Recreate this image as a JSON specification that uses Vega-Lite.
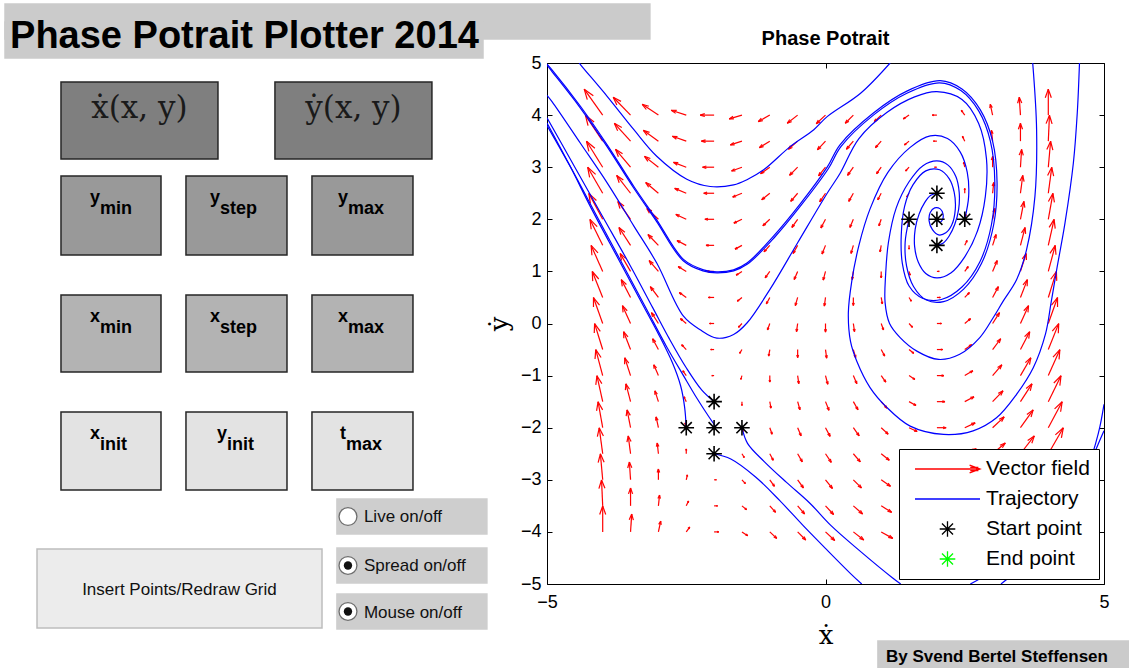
{
  "$schema": "https://vega.github.io/schema/vega-lite/v6.json",
  "background": "white",
  "padding": {"left": 0, "top": 3, "right": 0, "bottom": 0},
  "spacing": 0,
  "bounds": "flush",
  "config": {
    "font": "Liberation Sans",
    "view": {"stroke": null},
    "axis": {"grid": false, "domainColor": "black", "tickColor": "black", "labelColor": "black", "labelFont": "Liberation Sans", "labelFontSize": 18, "titleColor": "black", "labelOverlap": false}
  },
  "resolve": {"scale": {"x": "independent", "y": "independent", "fill": "independent", "stroke": "independent", "color": "independent", "shape": "independent"}},
  "datasets": {
    "widgets": [
      {"name": "band", "kind": "banner", "x0": -0.446, "x1": 4.693, "y0": -1.458, "y1": -1.161},
      {"name": "heading", "kind": "banner", "x0": -0.446, "x1": 3.363, "y0": -1.305, "y1": -1.0},
      {"name": "xdot", "kind": "function", "x0": 0, "x1": 1.251, "y0": -0.797, "y1": -0.144},
      {"name": "ydot", "kind": "function", "x0": 1.705, "x1": 2.956, "y0": -0.797, "y1": -0.144},
      {"name": "ymin", "kind": "y range", "x0": 0, "x1": 0.797, "y0": 0, "y1": 0.669},
      {"name": "ystep", "kind": "y range", "x0": 0.996, "x1": 1.801, "y0": 0, "y1": 0.669},
      {"name": "ymax", "kind": "y range", "x0": 2.0, "x1": 2.805, "y0": 0, "y1": 0.669},
      {"name": "xmin", "kind": "x range", "x0": 0, "x1": 0.797, "y0": 1.008, "y1": 1.661},
      {"name": "xstep", "kind": "x range", "x0": 0.996, "x1": 1.801, "y0": 1.008, "y1": 1.661},
      {"name": "xmax", "kind": "x range", "x0": 2.0, "x1": 2.805, "y0": 1.008, "y1": 1.661},
      {"name": "xinit", "kind": "initial", "x0": 0, "x1": 0.797, "y0": 2.0, "y1": 2.661},
      {"name": "yinit", "kind": "initial", "x0": 0.996, "x1": 1.801, "y0": 2.0, "y1": 2.661},
      {"name": "tmax", "kind": "initial", "x0": 2.0, "x1": 2.805, "y0": 2.0, "y1": 2.661},
      {"name": "insert", "kind": "action", "x0": -0.191, "x1": 2.08, "y0": 3.161, "y1": 3.831},
      {"name": "live", "kind": "option", "x0": 2.199, "x1": 3.394, "y0": 2.737, "y1": 3.034},
      {"name": "spread", "kind": "option", "x0": 2.199, "x1": 3.394, "y0": 3.153, "y1": 3.449},
      {"name": "mouse", "kind": "option", "x0": 2.199, "x1": 3.394, "y0": 3.542, "y1": 3.839},
      {"name": "credit", "kind": "credit", "x0": 6.51, "x1": 8.51, "y0": 3.941, "y1": 4.178}
    ],
    "labels": [
      {"role": "heading", "text": "Phase Potrait Plotter 2014", "gx": -0.406, "gy": -1.085},
      {"role": "function", "text": "ẋ(x, y)", "gx": 0.625, "gy": -0.49},
      {"role": "function", "text": "ẏ(x, y)", "gx": 2.331, "gy": -0.49},
      {"role": "button", "text": "Insert Points/Redraw Grid", "gx": 0.944, "gy": 3.551},
      {"role": "option", "text": "Live on/off", "gx": 2.414, "gy": 2.936},
      {"role": "option", "text": "Spread on/off", "gx": 2.414, "gy": 3.352},
      {"role": "option", "text": "Mouse on/off", "gx": 2.414, "gy": 3.742},
      {"role": "credit", "text": "By Svend Bertel Steffensen", "gx": 6.574, "gy": 4.119}
    ],
    "params": [
      {"main": "y", "sub": "min", "gx": 0.311, "gy": 0.229, "gys": 0.322},
      {"main": "y", "sub": "step", "gx": 1.267, "gy": 0.229, "gys": 0.322},
      {"main": "y", "sub": "max", "gx": 2.287, "gy": 0.229, "gys": 0.322},
      {"main": "x", "sub": "min", "gx": 0.311, "gy": 1.237, "gys": 1.331},
      {"main": "x", "sub": "step", "gx": 1.267, "gy": 1.237, "gys": 1.331},
      {"main": "x", "sub": "max", "gx": 2.287, "gy": 1.237, "gys": 1.331},
      {"main": "x", "sub": "init", "gx": 0.311, "gy": 2.229, "gys": 2.322},
      {"main": "y", "sub": "init", "gx": 1.323, "gy": 2.229, "gys": 2.322},
      {"main": "t", "sub": "max", "gx": 2.271, "gy": 2.229, "gys": 2.322}
    ],
    "radios": [
      {"option": "Live on/off", "on": false, "gx": 2.287, "gy": 2.886},
      {"option": "Spread on/off", "on": true, "gx": 2.287, "gy": 3.301},
      {"option": "Mouse on/off", "on": true, "gx": 2.287, "gy": 3.691}
    ],
    "starts": [
      {"kind": "Start point", "x": 2, "y": 2}, {"kind": "Start point", "x": 2.5, "y": 2}, {"kind": "Start point", "x": 1.5, "y": 2},
      {"kind": "Start point", "x": 2, "y": 2.5}, {"kind": "Start point", "x": 2, "y": 1.5},
      {"kind": "Start point", "x": -2, "y": -2}, {"kind": "Start point", "x": -1.5, "y": -2}, {"kind": "Start point", "x": -2.5, "y": -2},
      {"kind": "Start point", "x": -2, "y": -1.5}, {"kind": "Start point", "x": -2, "y": -2.5}
    ],
    "arrows": [
      {"x":-4,"y":-4,"u":0,"v":12},{"x":-4,"y":-3.5,"u":-0.5,"v":12},{"x":-4,"y":-3,"u":-1,"v":12},{"x":-4,"y":-2.5,"u":-1.5,"v":12},{"x":-4,"y":-2,"u":-2,"v":12},{"x":-4,"y":-1.5,"u":-2.5,"v":12},{"x":-4,"y":-1,"u":-3,"v":12},{"x":-4,"y":-0.5,"u":-3.5,"v":12},{"x":-4,"y":0,"u":-4,"v":12},{"x":-4,"y":0.5,"u":-4.5,"v":12},{"x":-4,"y":1,"u":-5,"v":12},{"x":-4,"y":1.5,"u":-5.5,"v":12},{"x":-4,"y":2,"u":-6,"v":12},{"x":-4,"y":2.5,"u":-6.5,"v":12},{"x":-4,"y":3,"u":-7,"v":12},{"x":-4,"y":3.5,"u":-7.5,"v":12},{"x":-4,"y":4,"u":-8,"v":12},
      {"x":-3.5,"y":-4,"u":0.5,"v":8.25},{"x":-3.5,"y":-3.5,"u":0,"v":8.25},{"x":-3.5,"y":-3,"u":-0.5,"v":8.25},{"x":-3.5,"y":-2.5,"u":-1,"v":8.25},{"x":-3.5,"y":-2,"u":-1.5,"v":8.25},{"x":-3.5,"y":-1.5,"u":-2,"v":8.25},{"x":-3.5,"y":-1,"u":-2.5,"v":8.25},{"x":-3.5,"y":-0.5,"u":-3,"v":8.25},{"x":-3.5,"y":0,"u":-3.5,"v":8.25},{"x":-3.5,"y":0.5,"u":-4,"v":8.25},{"x":-3.5,"y":1,"u":-4.5,"v":8.25},{"x":-3.5,"y":1.5,"u":-5,"v":8.25},{"x":-3.5,"y":2,"u":-5.5,"v":8.25},{"x":-3.5,"y":2.5,"u":-6,"v":8.25},{"x":-3.5,"y":3,"u":-6.5,"v":8.25},{"x":-3.5,"y":3.5,"u":-7,"v":8.25},{"x":-3.5,"y":4,"u":-7.5,"v":8.25},
      {"x":-3,"y":-4,"u":1,"v":5},{"x":-3,"y":-3.5,"u":0.5,"v":5},{"x":-3,"y":-3,"u":0,"v":5},{"x":-3,"y":-2.5,"u":-0.5,"v":5},{"x":-3,"y":-2,"u":-1,"v":5},{"x":-3,"y":-1.5,"u":-1.5,"v":5},{"x":-3,"y":-1,"u":-2,"v":5},{"x":-3,"y":-0.5,"u":-2.5,"v":5},{"x":-3,"y":0,"u":-3,"v":5},{"x":-3,"y":0.5,"u":-3.5,"v":5},{"x":-3,"y":1,"u":-4,"v":5},{"x":-3,"y":1.5,"u":-4.5,"v":5},{"x":-3,"y":2,"u":-5,"v":5},{"x":-3,"y":2.5,"u":-5.5,"v":5},{"x":-3,"y":3,"u":-6,"v":5},{"x":-3,"y":3.5,"u":-6.5,"v":5},{"x":-3,"y":4,"u":-7,"v":5},
      {"x":-2.5,"y":-4,"u":1.5,"v":2.25},{"x":-2.5,"y":-3.5,"u":1,"v":2.25},{"x":-2.5,"y":-3,"u":0.5,"v":2.25},{"x":-2.5,"y":-2.5,"u":0,"v":2.25},{"x":-2.5,"y":-2,"u":-0.5,"v":2.25},{"x":-2.5,"y":-1.5,"u":-1,"v":2.25},{"x":-2.5,"y":-1,"u":-1.5,"v":2.25},{"x":-2.5,"y":-0.5,"u":-2,"v":2.25},{"x":-2.5,"y":0,"u":-2.5,"v":2.25},{"x":-2.5,"y":0.5,"u":-3,"v":2.25},{"x":-2.5,"y":1,"u":-3.5,"v":2.25},{"x":-2.5,"y":1.5,"u":-4,"v":2.25},{"x":-2.5,"y":2,"u":-4.5,"v":2.25},{"x":-2.5,"y":2.5,"u":-5,"v":2.25},{"x":-2.5,"y":3,"u":-5.5,"v":2.25},{"x":-2.5,"y":3.5,"u":-6,"v":2.25},{"x":-2.5,"y":4,"u":-6.5,"v":2.25},
      {"x":-2,"y":-4,"u":2,"v":0},{"x":-2,"y":-3.5,"u":1.5,"v":0},{"x":-2,"y":-3,"u":1,"v":0},{"x":-2,"y":-2.5,"u":0.5,"v":0},{"x":-2,"y":-2,"u":0,"v":0},{"x":-2,"y":-1.5,"u":-0.5,"v":0},{"x":-2,"y":-1,"u":-1,"v":0},{"x":-2,"y":-0.5,"u":-1.5,"v":0},{"x":-2,"y":0,"u":-2,"v":0},{"x":-2,"y":0.5,"u":-2.5,"v":0},{"x":-2,"y":1,"u":-3,"v":0},{"x":-2,"y":1.5,"u":-3.5,"v":0},{"x":-2,"y":2,"u":-4,"v":0},{"x":-2,"y":2.5,"u":-4.5,"v":0},{"x":-2,"y":3,"u":-5,"v":0},{"x":-2,"y":3.5,"u":-5.5,"v":0},{"x":-2,"y":4,"u":-6,"v":0},
      {"x":-1.5,"y":-4,"u":2.5,"v":-1.75},{"x":-1.5,"y":-3.5,"u":2,"v":-1.75},{"x":-1.5,"y":-3,"u":1.5,"v":-1.75},{"x":-1.5,"y":-2.5,"u":1,"v":-1.75},{"x":-1.5,"y":-2,"u":0.5,"v":-1.75},{"x":-1.5,"y":-1.5,"u":0,"v":-1.75},{"x":-1.5,"y":-1,"u":-0.5,"v":-1.75},{"x":-1.5,"y":-0.5,"u":-1,"v":-1.75},{"x":-1.5,"y":0,"u":-1.5,"v":-1.75},{"x":-1.5,"y":0.5,"u":-2,"v":-1.75},{"x":-1.5,"y":1,"u":-2.5,"v":-1.75},{"x":-1.5,"y":1.5,"u":-3,"v":-1.75},{"x":-1.5,"y":2,"u":-3.5,"v":-1.75},{"x":-1.5,"y":2.5,"u":-4,"v":-1.75},{"x":-1.5,"y":3,"u":-4.5,"v":-1.75},{"x":-1.5,"y":3.5,"u":-5,"v":-1.75},{"x":-1.5,"y":4,"u":-5.5,"v":-1.75},
      {"x":-1,"y":-4,"u":3,"v":-3},{"x":-1,"y":-3.5,"u":2.5,"v":-3},{"x":-1,"y":-3,"u":2,"v":-3},{"x":-1,"y":-2.5,"u":1.5,"v":-3},{"x":-1,"y":-2,"u":1,"v":-3},{"x":-1,"y":-1.5,"u":0.5,"v":-3},{"x":-1,"y":-1,"u":0,"v":-3},{"x":-1,"y":-0.5,"u":-0.5,"v":-3},{"x":-1,"y":0,"u":-1,"v":-3},{"x":-1,"y":0.5,"u":-1.5,"v":-3},{"x":-1,"y":1,"u":-2,"v":-3},{"x":-1,"y":1.5,"u":-2.5,"v":-3},{"x":-1,"y":2,"u":-3,"v":-3},{"x":-1,"y":2.5,"u":-3.5,"v":-3},{"x":-1,"y":3,"u":-4,"v":-3},{"x":-1,"y":3.5,"u":-4.5,"v":-3},{"x":-1,"y":4,"u":-5,"v":-3},
      {"x":-0.5,"y":-4,"u":3.5,"v":-3.75},{"x":-0.5,"y":-3.5,"u":3,"v":-3.75},{"x":-0.5,"y":-3,"u":2.5,"v":-3.75},{"x":-0.5,"y":-2.5,"u":2,"v":-3.75},{"x":-0.5,"y":-2,"u":1.5,"v":-3.75},{"x":-0.5,"y":-1.5,"u":1,"v":-3.75},{"x":-0.5,"y":-1,"u":0.5,"v":-3.75},{"x":-0.5,"y":-0.5,"u":0,"v":-3.75},{"x":-0.5,"y":0,"u":-0.5,"v":-3.75},{"x":-0.5,"y":0.5,"u":-1,"v":-3.75},{"x":-0.5,"y":1,"u":-1.5,"v":-3.75},{"x":-0.5,"y":1.5,"u":-2,"v":-3.75},{"x":-0.5,"y":2,"u":-2.5,"v":-3.75},{"x":-0.5,"y":2.5,"u":-3,"v":-3.75},{"x":-0.5,"y":3,"u":-3.5,"v":-3.75},{"x":-0.5,"y":3.5,"u":-4,"v":-3.75},{"x":-0.5,"y":4,"u":-4.5,"v":-3.75},
      {"x":0,"y":-4,"u":4,"v":-4},{"x":0,"y":-3.5,"u":3.5,"v":-4},{"x":0,"y":-3,"u":3,"v":-4},{"x":0,"y":-2.5,"u":2.5,"v":-4},{"x":0,"y":-2,"u":2,"v":-4},{"x":0,"y":-1.5,"u":1.5,"v":-4},{"x":0,"y":-1,"u":1,"v":-4},{"x":0,"y":-0.5,"u":0.5,"v":-4},{"x":0,"y":0,"u":0,"v":-4},{"x":0,"y":0.5,"u":-0.5,"v":-4},{"x":0,"y":1,"u":-1,"v":-4},{"x":0,"y":1.5,"u":-1.5,"v":-4},{"x":0,"y":2,"u":-2,"v":-4},{"x":0,"y":2.5,"u":-2.5,"v":-4},{"x":0,"y":3,"u":-3,"v":-4},{"x":0,"y":3.5,"u":-3.5,"v":-4},{"x":0,"y":4,"u":-4,"v":-4},
      {"x":0.5,"y":-4,"u":4.5,"v":-3.75},{"x":0.5,"y":-3.5,"u":4,"v":-3.75},{"x":0.5,"y":-3,"u":3.5,"v":-3.75},{"x":0.5,"y":-2.5,"u":3,"v":-3.75},{"x":0.5,"y":-2,"u":2.5,"v":-3.75},{"x":0.5,"y":-1.5,"u":2,"v":-3.75},{"x":0.5,"y":-1,"u":1.5,"v":-3.75},{"x":0.5,"y":-0.5,"u":1,"v":-3.75},{"x":0.5,"y":0,"u":0.5,"v":-3.75},{"x":0.5,"y":0.5,"u":0,"v":-3.75},{"x":0.5,"y":1,"u":-0.5,"v":-3.75},{"x":0.5,"y":1.5,"u":-1,"v":-3.75},{"x":0.5,"y":2,"u":-1.5,"v":-3.75},{"x":0.5,"y":2.5,"u":-2,"v":-3.75},{"x":0.5,"y":3,"u":-2.5,"v":-3.75},{"x":0.5,"y":3.5,"u":-3,"v":-3.75},{"x":0.5,"y":4,"u":-3.5,"v":-3.75},
      {"x":1,"y":-4,"u":5,"v":-3},{"x":1,"y":-3.5,"u":4.5,"v":-3},{"x":1,"y":-3,"u":4,"v":-3},{"x":1,"y":-2.5,"u":3.5,"v":-3},{"x":1,"y":-2,"u":3,"v":-3},{"x":1,"y":-1.5,"u":2.5,"v":-3},{"x":1,"y":-1,"u":2,"v":-3},{"x":1,"y":-0.5,"u":1.5,"v":-3},{"x":1,"y":0,"u":1,"v":-3},{"x":1,"y":0.5,"u":0.5,"v":-3},{"x":1,"y":1,"u":0,"v":-3},{"x":1,"y":1.5,"u":-0.5,"v":-3},{"x":1,"y":2,"u":-1,"v":-3},{"x":1,"y":2.5,"u":-1.5,"v":-3},{"x":1,"y":3,"u":-2,"v":-3},{"x":1,"y":3.5,"u":-2.5,"v":-3},{"x":1,"y":4,"u":-3,"v":-3},
      {"x":1.5,"y":-4,"u":5.5,"v":-1.75},{"x":1.5,"y":-3.5,"u":5,"v":-1.75},{"x":1.5,"y":-3,"u":4.5,"v":-1.75},{"x":1.5,"y":-2.5,"u":4,"v":-1.75},{"x":1.5,"y":-2,"u":3.5,"v":-1.75},{"x":1.5,"y":-1.5,"u":3,"v":-1.75},{"x":1.5,"y":-1,"u":2.5,"v":-1.75},{"x":1.5,"y":-0.5,"u":2,"v":-1.75},{"x":1.5,"y":0,"u":1.5,"v":-1.75},{"x":1.5,"y":0.5,"u":1,"v":-1.75},{"x":1.5,"y":1,"u":0.5,"v":-1.75},{"x":1.5,"y":1.5,"u":0,"v":-1.75},{"x":1.5,"y":2,"u":-0.5,"v":-1.75},{"x":1.5,"y":2.5,"u":-1,"v":-1.75},{"x":1.5,"y":3,"u":-1.5,"v":-1.75},{"x":1.5,"y":3.5,"u":-2,"v":-1.75},{"x":1.5,"y":4,"u":-2.5,"v":-1.75},
      {"x":2,"y":-4,"u":6,"v":0},{"x":2,"y":-3.5,"u":5.5,"v":0},{"x":2,"y":-3,"u":5,"v":0},{"x":2,"y":-2.5,"u":4.5,"v":0},{"x":2,"y":-2,"u":4,"v":0},{"x":2,"y":-1.5,"u":3.5,"v":0},{"x":2,"y":-1,"u":3,"v":0},{"x":2,"y":-0.5,"u":2.5,"v":0},{"x":2,"y":0,"u":2,"v":0},{"x":2,"y":0.5,"u":1.5,"v":0},{"x":2,"y":1,"u":1,"v":0},{"x":2,"y":1.5,"u":0.5,"v":0},{"x":2,"y":2,"u":0,"v":0},{"x":2,"y":2.5,"u":-0.5,"v":0},{"x":2,"y":3,"u":-1,"v":0},{"x":2,"y":3.5,"u":-1.5,"v":0},{"x":2,"y":4,"u":-2,"v":0},
      {"x":2.5,"y":-4,"u":6.5,"v":2.25},{"x":2.5,"y":-3.5,"u":6,"v":2.25},{"x":2.5,"y":-3,"u":5.5,"v":2.25},{"x":2.5,"y":-2.5,"u":5,"v":2.25},{"x":2.5,"y":-2,"u":4.5,"v":2.25},{"x":2.5,"y":-1.5,"u":4,"v":2.25},{"x":2.5,"y":-1,"u":3.5,"v":2.25},{"x":2.5,"y":-0.5,"u":3,"v":2.25},{"x":2.5,"y":0,"u":2.5,"v":2.25},{"x":2.5,"y":0.5,"u":2,"v":2.25},{"x":2.5,"y":1,"u":1.5,"v":2.25},{"x":2.5,"y":1.5,"u":1,"v":2.25},{"x":2.5,"y":2,"u":0.5,"v":2.25},{"x":2.5,"y":2.5,"u":0,"v":2.25},{"x":2.5,"y":3,"u":-0.5,"v":2.25},{"x":2.5,"y":3.5,"u":-1,"v":2.25},{"x":2.5,"y":4,"u":-1.5,"v":2.25},
      {"x":3,"y":-4,"u":7,"v":5},{"x":3,"y":-3.5,"u":6.5,"v":5},{"x":3,"y":-3,"u":6,"v":5},{"x":3,"y":-2.5,"u":5.5,"v":5},{"x":3,"y":-2,"u":5,"v":5},{"x":3,"y":-1.5,"u":4.5,"v":5},{"x":3,"y":-1,"u":4,"v":5},{"x":3,"y":-0.5,"u":3.5,"v":5},{"x":3,"y":0,"u":3,"v":5},{"x":3,"y":0.5,"u":2.5,"v":5},{"x":3,"y":1,"u":2,"v":5},{"x":3,"y":1.5,"u":1.5,"v":5},{"x":3,"y":2,"u":1,"v":5},{"x":3,"y":2.5,"u":0.5,"v":5},{"x":3,"y":3,"u":0,"v":5},{"x":3,"y":3.5,"u":-0.5,"v":5},{"x":3,"y":4,"u":-1,"v":5},
      {"x":3.5,"y":-4,"u":7.5,"v":8.25},{"x":3.5,"y":-3.5,"u":7,"v":8.25},{"x":3.5,"y":-3,"u":6.5,"v":8.25},{"x":3.5,"y":-2.5,"u":6,"v":8.25},{"x":3.5,"y":-2,"u":5.5,"v":8.25},{"x":3.5,"y":-1.5,"u":5,"v":8.25},{"x":3.5,"y":-1,"u":4.5,"v":8.25},{"x":3.5,"y":-0.5,"u":4,"v":8.25},{"x":3.5,"y":0,"u":3.5,"v":8.25},{"x":3.5,"y":0.5,"u":3,"v":8.25},{"x":3.5,"y":1,"u":2.5,"v":8.25},{"x":3.5,"y":1.5,"u":2,"v":8.25},{"x":3.5,"y":2,"u":1.5,"v":8.25},{"x":3.5,"y":2.5,"u":1,"v":8.25},{"x":3.5,"y":3,"u":0.5,"v":8.25},{"x":3.5,"y":3.5,"u":0,"v":8.25},{"x":3.5,"y":4,"u":-0.5,"v":8.25},
      {"x":4,"y":-4,"u":8,"v":12},{"x":4,"y":-3.5,"u":7.5,"v":12},{"x":4,"y":-3,"u":7,"v":12},{"x":4,"y":-2.5,"u":6.5,"v":12},{"x":4,"y":-2,"u":6,"v":12},{"x":4,"y":-1.5,"u":5.5,"v":12},{"x":4,"y":-1,"u":5,"v":12},{"x":4,"y":-0.5,"u":4.5,"v":12},{"x":4,"y":0,"u":4,"v":12},{"x":4,"y":0.5,"u":3.5,"v":12},{"x":4,"y":1,"u":3,"v":12},{"x":4,"y":1.5,"u":2.5,"v":12},{"x":4,"y":2,"u":2,"v":12},{"x":4,"y":2.5,"u":1.5,"v":12},{"x":4,"y":3,"u":1,"v":12},{"x":4,"y":3.5,"u":0.5,"v":12},{"x":4,"y":4,"u":0,"v":12}
    ],
    "paths": [
      {"id":"p1","i":0,"x":2,"y":1.5},{"id":"p1","i":1,"x":2.11,"y":1.54},{"id":"p1","i":2,"x":2.22,"y":1.68},{"id":"p1","i":3,"x":2.32,"y":1.9},{"id":"p1","i":4,"x":2.39,"y":2.19},{"id":"p1","i":5,"x":2.4,"y":2.52},{"id":"p1","i":6,"x":2.34,"y":2.82},{"id":"p1","i":7,"x":2.2,"y":3.04},{"id":"p1","i":8,"x":2,"y":3.12},{"id":"p1","i":9,"x":1.75,"y":3.03},{"id":"p1","i":10,"x":1.5,"y":2.72},{"id":"p1","i":11,"x":1.27,"y":2.22},{"id":"p1","i":12,"x":1.13,"y":1.56},{"id":"p1","i":13,"x":1.08,"y":0.95},{"id":"p1","i":14,"x":1.07,"y":0.4},{"id":"p1","i":15,"x":1.15,"y":0},{"id":"p1","i":16,"x":1.34,"y":-0.27},{"id":"p1","i":17,"x":1.64,"y":-0.53},{"id":"p1","i":18,"x":2.03,"y":-0.69},{"id":"p1","i":19,"x":2.41,"y":-0.59},{"id":"p1","i":20,"x":2.77,"y":-0.27},{"id":"p1","i":21,"x":3.01,"y":0.11},{"id":"p1","i":22,"x":3.19,"y":0.43},{"id":"p1","i":23,"x":3.43,"y":0.84},{"id":"p1","i":24,"x":3.61,"y":1.42},{"id":"p1","i":25,"x":3.76,"y":2.44},{"id":"p1","i":26,"x":3.79,"y":3.72},{"id":"p1","i":27,"x":3.72,"y":5},
      {"id":"p2","i":0,"x":2.5,"y":2},{"id":"p2","i":1,"x":2.57,"y":2.44},{"id":"p2","i":2,"x":2.545,"y":2.9},{"id":"p2","i":3,"x":2.42,"y":3.29},{"id":"p2","i":4,"x":2.19,"y":3.55},{"id":"p2","i":5,"x":1.88,"y":3.6},{"id":"p2","i":6,"x":1.52,"y":3.38},{"id":"p2","i":7,"x":1.12,"y":2.9},{"id":"p2","i":8,"x":0.8,"y":2.2},{"id":"p2","i":9,"x":0.6,"y":1.5},{"id":"p2","i":10,"x":0.47,"y":0.8},{"id":"p2","i":11,"x":0.41,"y":0.2},{"id":"p2","i":12,"x":0.45,"y":-0.35},{"id":"p2","i":13,"x":0.56,"y":-0.72},{"id":"p2","i":14,"x":0.8,"y":-1.23},{"id":"p2","i":15,"x":1.1,"y":-1.61},{"id":"p2","i":16,"x":1.52,"y":-1.97},{"id":"p2","i":17,"x":2.12,"y":-2.13},{"id":"p2","i":18,"x":2.65,"y":-2.06},{"id":"p2","i":19,"x":3.07,"y":-1.81},{"id":"p2","i":20,"x":3.43,"y":-1.36},{"id":"p2","i":21,"x":3.73,"y":-0.85},{"id":"p2","i":22,"x":3.95,"y":-0.2},{"id":"p2","i":23,"x":4.05,"y":0.4},{"id":"p2","i":24,"x":4.15,"y":1.03},{"id":"p2","i":25,"x":4.3,"y":1.93},{"id":"p2","i":26,"x":4.45,"y":3.08},{"id":"p2","i":27,"x":4.52,"y":4.04},{"id":"p2","i":28,"x":4.56,"y":5},
      {"id":"p3","i":0,"x":1.5,"y":2},{"id":"p3","i":1,"x":1.43,"y":1.56},{"id":"p3","i":2,"x":1.455,"y":1.105},{"id":"p3","i":3,"x":1.58,"y":0.71},{"id":"p3","i":4,"x":1.81,"y":0.45},{"id":"p3","i":5,"x":2.12,"y":0.42},{"id":"p3","i":6,"x":2.48,"y":0.66},{"id":"p3","i":7,"x":2.8,"y":1.15},{"id":"p3","i":8,"x":3.02,"y":1.9},{"id":"p3","i":9,"x":3.08,"y":2.7},{"id":"p3","i":10,"x":3,"y":3.5},{"id":"p3","i":11,"x":2.78,"y":4.1},{"id":"p3","i":12,"x":2.45,"y":4.5},{"id":"p3","i":13,"x":2.06,"y":4.66},{"id":"p3","i":14,"x":1.46,"y":4.46},{"id":"p3","i":15,"x":0.86,"y":4.04},{"id":"p3","i":16,"x":0.26,"y":3.43},{"id":"p3","i":17,"x":0.03,"y":3},{"id":"p3","i":18,"x":-0.45,"y":2.3},{"id":"p3","i":19,"x":-0.93,"y":1.68},{"id":"p3","i":20,"x":-1.41,"y":1.16},{"id":"p3","i":21,"x":-1.65,"y":1.03},{"id":"p3","i":22,"x":-1.95,"y":0.99},{"id":"p3","i":23,"x":-2.19,"y":1.03},{"id":"p3","i":24,"x":-2.55,"y":1.23},{"id":"p3","i":25,"x":-3.03,"y":1.99},{"id":"p3","i":26,"x":-3.44,"y":2.63},{"id":"p3","i":27,"x":-3.92,"y":3.43},{"id":"p3","i":28,"x":-4.4,"y":4.17},{"id":"p3","i":29,"x":-4.91,"y":4.87},{"id":"p3","i":30,"x":-5,"y":4.98},
      {"id":"p4","i":0,"x":2,"y":2.5},{"id":"p4","i":1,"x":1.89,"y":2.46},{"id":"p4","i":2,"x":1.78,"y":2.32},{"id":"p4","i":3,"x":1.68,"y":2.1},{"id":"p4","i":4,"x":1.61,"y":1.81},{"id":"p4","i":5,"x":1.6,"y":1.48},{"id":"p4","i":6,"x":1.665,"y":1.18},{"id":"p4","i":7,"x":1.8,"y":0.96},{"id":"p4","i":8,"x":2,"y":0.875},{"id":"p4","i":9,"x":2.25,"y":0.97},{"id":"p4","i":10,"x":2.5,"y":1.28},{"id":"p4","i":11,"x":2.73,"y":1.78},{"id":"p4","i":12,"x":2.87,"y":2.44},{"id":"p4","i":13,"x":2.89,"y":3.16},{"id":"p4","i":14,"x":2.75,"y":3.84},{"id":"p4","i":15,"x":2.45,"y":4.3},{"id":"p4","i":16,"x":2,"y":4.45},{"id":"p4","i":17,"x":1.6,"y":4.35},{"id":"p4","i":18,"x":1.1,"y":4.05},{"id":"p4","i":19,"x":0.6,"y":3.55},{"id":"p4","i":20,"x":0.26,"y":2.88},{"id":"p4","i":21,"x":0.03,"y":2.5},{"id":"p4","i":22,"x":-0.5,"y":1.55},{"id":"p4","i":23,"x":-1,"y":0.65},{"id":"p4","i":24,"x":-1.41,"y":0.01},{"id":"p4","i":25,"x":-1.65,"y":-0.21},{"id":"p4","i":26,"x":-1.95,"y":-0.28},{"id":"p4","i":27,"x":-2.25,"y":-0.12},{"id":"p4","i":28,"x":-2.55,"y":0.14},{"id":"p4","i":29,"x":-3.03,"y":1.16},{"id":"p4","i":30,"x":-3.44,"y":1.87},{"id":"p4","i":31,"x":-3.92,"y":2.7},{"id":"p4","i":32,"x":-4.4,"y":3.46},{"id":"p4","i":33,"x":-4.91,"y":4.26},{"id":"p4","i":34,"x":-5,"y":4.38},
      {"id":"p5","i":0,"x":2,"y":2},{"id":"p5","i":1,"x":2.05,"y":1.94},{"id":"p5","i":2,"x":2.1,"y":1.99},{"id":"p5","i":3,"x":2.11,"y":2.1},{"id":"p5","i":4,"x":2.06,"y":2.2},{"id":"p5","i":5,"x":1.96,"y":2.22},{"id":"p5","i":6,"x":1.88,"y":2.13},{"id":"p5","i":7,"x":1.86,"y":1.97},{"id":"p5","i":8,"x":1.92,"y":1.8},{"id":"p5","i":9,"x":2.03,"y":1.7},{"id":"p5","i":10,"x":2.16,"y":1.74},{"id":"p5","i":11,"x":2.27,"y":1.9},{"id":"p5","i":12,"x":2.33,"y":2.19},{"id":"p5","i":13,"x":2.31,"y":2.52},{"id":"p5","i":14,"x":2.22,"y":2.78},{"id":"p5","i":15,"x":2.05,"y":2.95},{"id":"p5","i":16,"x":1.8,"y":2.93},{"id":"p5","i":17,"x":1.57,"y":2.66},{"id":"p5","i":18,"x":1.42,"y":2.25},{"id":"p5","i":19,"x":1.36,"y":1.7},{"id":"p5","i":20,"x":1.38,"y":1.15},{"id":"p5","i":21,"x":1.5,"y":0.72},{"id":"p5","i":22,"x":1.75,"y":0.48},{"id":"p5","i":23,"x":2.08,"y":0.46},{"id":"p5","i":24,"x":2.45,"y":0.7},{"id":"p5","i":25,"x":2.77,"y":1.18},{"id":"p5","i":26,"x":2.98,"y":1.9},{"id":"p5","i":27,"x":3.04,"y":2.7},{"id":"p5","i":28,"x":2.96,"y":3.5},{"id":"p5","i":29,"x":2.75,"y":4.08},{"id":"p5","i":30,"x":2.43,"y":4.47},{"id":"p5","i":31,"x":2.05,"y":4.62},{"id":"p5","i":32,"x":1.46,"y":4.42},{"id":"p5","i":33,"x":0.86,"y":4},{"id":"p5","i":34,"x":0.28,"y":3.4},{"id":"p5","i":35,"x":0.05,"y":2.97},{"id":"p5","i":36,"x":-0.43,"y":2.28},{"id":"p5","i":37,"x":-0.91,"y":1.66},{"id":"p5","i":38,"x":-1.4,"y":1.14},{"id":"p5","i":39,"x":-1.65,"y":1.01},{"id":"p5","i":40,"x":-1.95,"y":0.97},{"id":"p5","i":41,"x":-2.2,"y":1.01},{"id":"p5","i":42,"x":-2.56,"y":1.21},{"id":"p5","i":43,"x":-3.04,"y":1.97},{"id":"p5","i":44,"x":-3.45,"y":2.61},{"id":"p5","i":45,"x":-3.93,"y":3.41},{"id":"p5","i":46,"x":-4.41,"y":4.15},{"id":"p5","i":47,"x":-4.92,"y":4.85},{"id":"p5","i":48,"x":-5,"y":4.96},
      {"id":"tU","i":0,"x":1.16,"y":5},{"id":"tU","i":1,"x":0.63,"y":4.42},{"id":"tU","i":2,"x":0.03,"y":3.97},{"id":"tU","i":3,"x":-0.21,"y":3.72},{"id":"tU","i":4,"x":-0.63,"y":3.4},{"id":"tU","i":5,"x":-1.11,"y":2.95},{"id":"tU","i":6,"x":-1.41,"y":2.76},{"id":"tU","i":7,"x":-1.65,"y":2.66},{"id":"tU","i":8,"x":-2.07,"y":2.63},{"id":"tU","i":9,"x":-2.49,"y":2.77},{"id":"tU","i":10,"x":-3.03,"y":3.21},{"id":"tU","i":11,"x":-3.44,"y":3.72},{"id":"tU","i":12,"x":-3.92,"y":4.36},{"id":"tU","i":13,"x":-4.4,"y":4.97},{"id":"tU","i":14,"x":-4.42,"y":5},
      {"id":"t1","i":0,"x":-2,"y":-1.5},{"id":"t1","i":1,"x":-2.22,"y":-1.28},{"id":"t1","i":2,"x":-2.5,"y":-0.85},{"id":"t1","i":3,"x":-2.8,"y":-0.3},{"id":"t1","i":4,"x":-3.1,"y":0.3},{"id":"t1","i":5,"x":-3.5,"y":1.1},{"id":"t1","i":6,"x":-4,"y":2.05},{"id":"t1","i":7,"x":-4.5,"y":3},{"id":"t1","i":8,"x":-5,"y":3.95},
      {"id":"t2","i":0,"x":-2.5,"y":-2},{"id":"t2","i":1,"x":-2.53,"y":-1.6},{"id":"t2","i":2,"x":-2.6,"y":-1.2},{"id":"t2","i":3,"x":-2.75,"y":-0.75},{"id":"t2","i":4,"x":-3,"y":-0.2},{"id":"t2","i":5,"x":-3.3,"y":0.4},{"id":"t2","i":6,"x":-3.7,"y":1.2},{"id":"t2","i":7,"x":-4.2,"y":2.2},{"id":"t2","i":8,"x":-4.6,"y":3.05},{"id":"t2","i":9,"x":-5,"y":3.85},
      {"id":"t3","i":0,"x":-1.97,"y":-1.98},{"id":"t3","i":1,"x":-2.1,"y":-1.78},{"id":"t3","i":2,"x":-2.3,"y":-1.45},{"id":"t3","i":3,"x":-2.55,"y":-1},{"id":"t3","i":4,"x":-2.85,"y":-0.45},{"id":"t3","i":5,"x":-3.2,"y":0.25},{"id":"t3","i":6,"x":-3.6,"y":1.05},{"id":"t3","i":7,"x":-4.1,"y":2.05},{"id":"t3","i":8,"x":-4.55,"y":2.95},{"id":"t3","i":9,"x":-5,"y":3.8},
      {"id":"t4","i":0,"x":-1.5,"y":-2},{"id":"t4","i":1,"x":-1.4,"y":-2.3},{"id":"t4","i":2,"x":-1.1,"y":-2.65},{"id":"t4","i":3,"x":-0.7,"y":-3.05},{"id":"t4","i":4,"x":-0.28,"y":-3.45},{"id":"t4","i":5,"x":0.1,"y":-3.88},{"id":"t4","i":6,"x":0.6,"y":-4.35},{"id":"t4","i":7,"x":1.2,"y":-4.88},{"id":"t4","i":8,"x":1.35,"y":-5},
      {"id":"t5","i":0,"x":-2,"y":-2.5},{"id":"t5","i":1,"x":-1.7,"y":-2.6},{"id":"t5","i":2,"x":-1.25,"y":-2.95},{"id":"t5","i":3,"x":-0.82,"y":-3.4},{"id":"t5","i":4,"x":-0.4,"y":-3.88},{"id":"t5","i":5,"x":0.03,"y":-4.35},{"id":"t5","i":6,"x":0.45,"y":-4.8},{"id":"t5","i":7,"x":0.65,"y":-5},
      {"id":"t6","i":0,"x":2.6,"y":-5},{"id":"t6","i":1,"x":2.84,"y":-4.85},{"id":"t6","i":2,"x":3.4,"y":-4.35},{"id":"t6","i":3,"x":4,"y":-3.7},{"id":"t6","i":4,"x":4.45,"y":-3.1},{"id":"t6","i":5,"x":4.72,"y":-2.7},{"id":"t6","i":6,"x":4.9,"y":-2.1},{"id":"t6","i":7,"x":5,"y":-1.55},
      {"id":"t7","i":0,"x":3.15,"y":-5},{"id":"t7","i":1,"x":3.32,"y":-4.85},{"id":"t7","i":2,"x":3.9,"y":-4.25},{"id":"t7","i":3,"x":4.45,"y":-3.5},{"id":"t7","i":4,"x":4.87,"y":-2.38},{"id":"t7","i":5,"x":5,"y":-2.06}
    ]
  },
  "hconcat": [
    {
      "width": 547,
      "height": 521,
      "view": {"stroke": null},
      "layer": [
        {
          "data": {"name": "widgets"},
          "mark": {"type": "rect", "strokeWidth": 1.5},
          "encoding": {
            "x": {"field": "x0", "type": "quantitative", "scale": {"domain": [-0.486, 3.873], "nice": false, "zero": false}, "axis": null},
            "x2": {"field": "x1"},
            "y": {"field": "y0", "type": "quantitative", "scale": {"domain": [-0.958, 3.458], "nice": false, "zero": false, "reverse": true}, "axis": null},
            "y2": {"field": "y1"},
            "fill": {"field": "kind", "type": "nominal", "legend": null, "scale": {"domain": ["banner", "function", "y range", "x range", "initial", "action", "option", "credit"], "range": ["#cbcbcb", "#7f7f7f", "#999999", "#b3b3b3", "#e3e3e3", "#ececec", "#cecece", "#cbcbcb"]}},
            "stroke": {"field": "kind", "type": "nominal", "legend": null, "scale": {"domain": ["banner", "function", "y range", "x range", "initial", "action", "option", "credit"], "range": ["#cbcbcb", "#262626", "#262626", "#262626", "#262626", "#bdbdbd", "#cecece", "#cbcbcb"]}}
          }
        },
        {
          "data": {"name": "labels"},
          "transform": [{"filter": "datum.role == 'heading'"}],
          "mark": {"type": "text", "align": "left", "baseline": "alphabetic", "fontSize": 38, "fontWeight": "bold", "color": "black"},
          "encoding": {
            "x": {"field": "gx", "type": "quantitative", "scale": {"domain": [-0.486, 3.873], "nice": false, "zero": false}, "axis": null},
            "y": {"field": "gy", "type": "quantitative", "scale": {"domain": [-0.958, 3.458], "nice": false, "zero": false, "reverse": true}, "axis": null},
            "text": {"field": "text"}
          }
        },
        {
          "data": {"name": "labels"},
          "transform": [{"filter": "datum.role == 'function'"}],
          "mark": {"type": "text", "align": "center", "baseline": "alphabetic", "font": "DejaVu Serif", "fontSize": 31, "color": "#1a1a1a"},
          "encoding": {
            "x": {"field": "gx", "type": "quantitative", "scale": {"domain": [-0.486, 3.873], "nice": false, "zero": false}, "axis": null},
            "y": {"field": "gy", "type": "quantitative", "scale": {"domain": [-0.958, 3.458], "nice": false, "zero": false, "reverse": true}, "axis": null},
            "text": {"field": "text"}
          }
        },
        {
          "data": {"name": "params"},
          "mark": {"type": "text", "align": "right", "baseline": "alphabetic", "fontSize": 18, "fontWeight": "bold", "color": "black"},
          "encoding": {
            "x": {"field": "gx", "type": "quantitative", "scale": {"domain": [-0.486, 3.873], "nice": false, "zero": false}, "axis": null},
            "y": {"field": "gy", "type": "quantitative", "scale": {"domain": [-0.958, 3.458], "nice": false, "zero": false, "reverse": true}, "axis": null},
            "text": {"field": "main"}
          }
        },
        {
          "data": {"name": "params"},
          "mark": {"type": "text", "align": "left", "baseline": "alphabetic", "fontSize": 18, "fontWeight": "bold", "color": "black"},
          "encoding": {
            "x": {"field": "gx", "type": "quantitative", "scale": {"domain": [-0.486, 3.873], "nice": false, "zero": false}, "axis": null},
            "y": {"field": "gys", "type": "quantitative", "scale": {"domain": [-0.958, 3.458], "nice": false, "zero": false, "reverse": true}, "axis": null},
            "text": {"field": "sub"}
          }
        },
        {
          "data": {"name": "labels"},
          "transform": [{"filter": "datum.role == 'button'"}],
          "mark": {"type": "text", "align": "center", "baseline": "alphabetic", "fontSize": 17, "color": "#111111"},
          "encoding": {
            "x": {"field": "gx", "type": "quantitative", "scale": {"domain": [-0.486, 3.873], "nice": false, "zero": false}, "axis": null},
            "y": {"field": "gy", "type": "quantitative", "scale": {"domain": [-0.958, 3.458], "nice": false, "zero": false, "reverse": true}, "axis": null},
            "text": {"field": "text"}
          }
        },
        {
          "data": {"name": "labels"},
          "transform": [{"filter": "datum.role == 'option'"}],
          "mark": {"type": "text", "align": "left", "baseline": "alphabetic", "fontSize": 17, "color": "#111111"},
          "encoding": {
            "x": {"field": "gx", "type": "quantitative", "scale": {"domain": [-0.486, 3.873], "nice": false, "zero": false}, "axis": null},
            "y": {"field": "gy", "type": "quantitative", "scale": {"domain": [-0.958, 3.458], "nice": false, "zero": false, "reverse": true}, "axis": null},
            "text": {"field": "text"}
          }
        },
        {
          "data": {"name": "labels"},
          "transform": [{"filter": "datum.role == 'credit'"}],
          "mark": {"type": "text", "align": "left", "baseline": "alphabetic", "fontSize": 17, "fontWeight": "bold", "color": "black"},
          "encoding": {
            "x": {"field": "gx", "type": "quantitative", "scale": {"domain": [-0.486, 3.873], "nice": false, "zero": false}, "axis": null},
            "y": {"field": "gy", "type": "quantitative", "scale": {"domain": [-0.958, 3.458], "nice": false, "zero": false, "reverse": true}, "axis": null},
            "text": {"field": "text"}
          }
        },
        {
          "data": {"name": "radios"},
          "mark": {"type": "point", "shape": "circle", "size": 320, "filled": true, "fill": "white", "stroke": "#6e6e6e", "strokeWidth": 1.3, "opacity": 1},
          "encoding": {
            "x": {"field": "gx", "type": "quantitative", "scale": {"domain": [-0.486, 3.873], "nice": false, "zero": false}, "axis": null},
            "y": {"field": "gy", "type": "quantitative", "scale": {"domain": [-0.958, 3.458], "nice": false, "zero": false, "reverse": true}, "axis": null}
          }
        },
        {
          "data": {"name": "radios"},
          "transform": [{"filter": "datum.on"}],
          "mark": {"type": "point", "shape": "circle", "size": 70, "filled": true, "color": "#111111", "opacity": 1},
          "encoding": {
            "x": {"field": "gx", "type": "quantitative", "scale": {"domain": [-0.486, 3.873], "nice": false, "zero": false}, "axis": null},
            "y": {"field": "gy", "type": "quantitative", "scale": {"domain": [-0.958, 3.458], "nice": false, "zero": false, "reverse": true}, "axis": null}
          }
        }
      ]
    },
    {
      "width": 557,
      "height": 521,
      "title": {"text": "Phase Potrait", "fontSize": 20, "fontWeight": "bold", "font": "Liberation Sans", "color": "black", "offset": 5, "anchor": "middle"},
      "resolve": {"axis": {"x": "independent", "y": "independent"}},
      "layer": [
        {
          "data": {"name": "arrows"},
          "transform": [
            {"calculate": "datum.x + 0.0415 * datum.u", "as": "tx"},
            {"calculate": "datum.y + 0.0415 * datum.v", "as": "ty"}
          ],
          "mark": {"type": "rule", "color": "#ff0000", "strokeWidth": 1.2},
          "encoding": {
            "x": {"field": "x", "type": "quantitative", "scale": {"domain": [-5, 5], "nice": false, "zero": false},
                  "axis": {"orient": "bottom", "values": [-5, 0, 5], "tickSize": -5, "labelPadding": 14, "labelFlush": false, "title": "ẋ", "titleFont": "DejaVu Serif", "titleFontSize": 26, "titleFontWeight": "normal", "titlePadding": 11}},
            "y": {"field": "y", "type": "quantitative", "scale": {"domain": [-5, 5], "nice": false, "zero": false},
                  "axis": {"orient": "left", "values": [-5, -4, -3, -2, -1, 0, 1, 2, 3, 4, 5], "tickSize": -5, "labelPadding": 11, "title": "ẏ", "titleFont": "DejaVu Serif", "titleFontSize": 26, "titleFontWeight": "normal", "titlePadding": 8}},
            "x2": {"field": "tx"},
            "y2": {"field": "ty"}
          }
        },
        {
          "data": {"name": "arrows"},
          "transform": [
            {"calculate": "datum.x + 0.0415 * datum.u", "as": "tx"},
            {"calculate": "datum.y + 0.0415 * datum.v", "as": "ty"},
            {"calculate": "datum.tx - 0.33 * 0.0415 * (datum.u + 0.33 * datum.v)", "as": "hx"},
            {"calculate": "datum.ty - 0.33 * 0.0415 * (datum.v - 0.33 * datum.u)", "as": "hy"}
          ],
          "mark": {"type": "rule", "color": "#ff0000", "strokeWidth": 1.2},
          "encoding": {
            "x": {"field": "hx", "type": "quantitative", "scale": {"domain": [-5, 5], "nice": false, "zero": false}, "axis": null},
            "y": {"field": "hy", "type": "quantitative", "scale": {"domain": [-5, 5], "nice": false, "zero": false}, "axis": null},
            "x2": {"field": "tx"},
            "y2": {"field": "ty"}
          }
        },
        {
          "data": {"name": "arrows"},
          "transform": [
            {"calculate": "datum.x + 0.0415 * datum.u", "as": "tx"},
            {"calculate": "datum.y + 0.0415 * datum.v", "as": "ty"},
            {"calculate": "datum.tx - 0.33 * 0.0415 * (datum.u - 0.33 * datum.v)", "as": "hx"},
            {"calculate": "datum.ty - 0.33 * 0.0415 * (datum.v + 0.33 * datum.u)", "as": "hy"}
          ],
          "mark": {"type": "rule", "color": "#ff0000", "strokeWidth": 1.2},
          "encoding": {
            "x": {"field": "hx", "type": "quantitative", "scale": {"domain": [-5, 5], "nice": false, "zero": false}, "axis": null},
            "y": {"field": "hy", "type": "quantitative", "scale": {"domain": [-5, 5], "nice": false, "zero": false}, "axis": null},
            "x2": {"field": "tx"},
            "y2": {"field": "ty"}
          }
        },
        {
          "data": {"name": "paths"},
          "mark": {"type": "line", "color": "#0000ff", "strokeWidth": 1.2, "clip": true, "interpolate": "catmull-rom"},
          "encoding": {
            "x": {"field": "x", "type": "quantitative", "scale": {"domain": [-5, 5], "nice": false, "zero": false},
                  "axis": {"orient": "top", "values": [-5, 0, 5], "tickSize": -5, "labels": false, "title": null}},
            "y": {"field": "y", "type": "quantitative", "scale": {"domain": [-5, 5], "nice": false, "zero": false},
                  "axis": {"orient": "right", "values": [-5, -4, -3, -2, -1, 0, 1, 2, 3, 4, 5], "tickSize": -5, "labels": false, "title": null}},
            "detail": {"field": "id"},
            "order": {"field": "i", "type": "quantitative"}
          }
        },
        {
          "data": {"name": "starts"},
          "mark": {"type": "point", "filled": false, "size": 4225, "strokeWidth": 1.6, "opacity": 1},
          "encoding": {
            "x": {"field": "x", "type": "quantitative", "scale": {"domain": [-5, 5], "nice": false, "zero": false}, "axis": null},
            "y": {"field": "y", "type": "quantitative", "scale": {"domain": [-5, 5], "nice": false, "zero": false}, "axis": null},
            "color": {"field": "kind", "type": "nominal",
                      "scale": {"domain": ["Vector field", "Trajectory", "Start point", "End point"], "range": ["#ff0000", "#0000ff", "#000000", "#00ff00"]},
                      "legend": {"title": null, "orient": "bottom-right", "offset": 5, "strokeColor": "black", "fillColor": "white", "padding": 9, "rowPadding": 8, "clipHeight": 22, "symbolSize": 4225, "symbolStrokeWidth": 1.3, "symbolOffset": 6, "labelOffset": 5, "labelFontSize": 21, "labelFont": "Liberation Sans", "labelColor": "black", "cornerRadius": 0}},
            "shape": {"field": "kind", "type": "nominal",
                      "scale": {"domain": ["Vector field", "Trajectory", "Start point", "End point"],
                                "range": ["M-1,0H1M0.68,-0.12L1,0L0.68,0.12M0.7,-0.05H0.95M0.7,0.05H0.95", "M-1,0H1", "M-0.24,0H0.24M0,-0.24V0.24M-0.17,-0.17L0.17,0.17M-0.17,0.17L0.17,-0.17", "M-0.24,0H0.24M0,-0.24V0.24M-0.17,-0.17L0.17,0.17M-0.17,0.17L0.17,-0.17"]},
                      "legend": {"title": null, "orient": "bottom-right"}}
          }
        }
      ]
    }
  ]
}
